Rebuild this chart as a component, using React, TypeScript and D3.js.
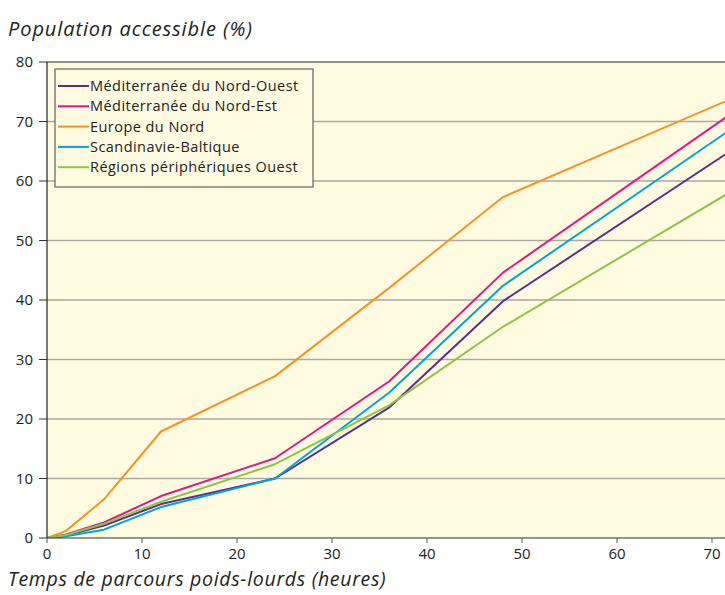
import React from "react";
import * as d3 from "d3";

const hours = [0, 2, 6, 12, 24, 36, 48, 72];
const seriesNames = [
  "Méditerranée du Nord-Ouest",
  "Méditerranée du Nord-Est",
  "Europe du Nord",
  "Scandinavie-Baltique",
  "Régions périphériques Ouest",
];
const medNO = [0, 0.4, 2.1, 5.7, 10, 21.9, 39.8, 65.1];
const medNE = [0, 0.6, 2.6, 7.05, 13.4, 26.3, 44.6, 71.3];
const europeNord = [0, 1.2, 6.5, 17.9, 27.2, 42, 57.3, 73.8];
const scandBalt = [0, 0.3, 1.4, 5.2, 10, 24.4, 42.4, 68.7];
const regionsOuest = [0, 0.5, 2.4, 6.1, 12.4, 22.3, 35.5, 58.2];
const seriesValues = [medNO, medNE, europeNord, scandBalt, regionsOuest];
const seriesColors = ["#5b2d90", "#e2158c", "#f7941d", "#00a3e0", "#8cc63f"];
const xTicks = [0, 10, 20, 30, 40, 50, 60, 70];
const yTicks = [0, 10, 20, 30, 40, 50, 60, 70, 80];

const W = 725;
const H = 595;
const left = 47;
const top = 62;
const bottom = 538;
const font = "'Open Sans', Lato, sans-serif";

export default function App() {
  const x = d3.scaleLinear().domain([0, 72]).range([left, left + 72 * 9.5]);
  const y = d3.scaleLinear().domain([0, 80]).range([bottom, top]);
  const line = d3
    .line<number>()
    .x((_, i) => x(hours[i]))
    .y((v) => y(v));

  return (
    <div style={{ position: "absolute", left: 0, top: 0 }}>
      <svg width={W} height={H} style={{ display: "block" }}>
        <defs>
          <clipPath id="plot">
            <rect x={left} y={top} width={W - left} height={bottom - top} />
          </clipPath>
        </defs>
        <rect x={left} y={top} width={W - left} height={bottom - top} fill="#fefbe0" />
        {yTicks.slice(1, -1).map((t) => (
          <line key={t} x1={left} x2={W} y1={y(t)} y2={y(t)} stroke="#aaa9a2" strokeWidth={1.5} />
        ))}
        <g clipPath="url(#plot)">
          {seriesValues.map((vals, i) => (
            <path
              key={i}
              d={line(vals) || ""}
              fill="none"
              stroke={seriesColors[i]}
              strokeWidth={2}
              strokeLinejoin="round"
            />
          ))}
        </g>
        <line x1={left} x2={W} y1={top} y2={top} stroke="#222" strokeWidth={1.2} />
        <line x1={left} x2={left} y1={top} y2={bottom} stroke="#222" strokeWidth={1.2} />
        <line x1={left} x2={W} y1={bottom} y2={bottom} stroke="#333" strokeWidth={1.2} />
        {yTicks.map((t) => (
          <g key={t}>
            <line x1={39} x2={left} y1={y(t)} y2={y(t)} stroke="#333" strokeWidth={1} />
            <text x={33} y={y(t)} dy="0.35em" textAnchor="end" fontFamily={font} fontSize={15} fill="#222">
              {t}
            </text>
          </g>
        ))}
        {xTicks.map((t) => (
          <g key={t}>
            <line x1={x(t)} x2={x(t)} y1={bottom} y2={bottom + 5} stroke="#555" strokeWidth={1} />
            <text x={x(t)} y={554} dy="0.35em" textAnchor="middle" fontFamily={font} fontSize={15} fill="#222">
              {t}
            </text>
          </g>
        ))}
        <text x={8} y={36} fontFamily={font} fontStyle="italic" fontSize={20} letterSpacing={0.9} fill="#222">
          Population accessible (%)
        </text>
        <text x={8} y={586} fontFamily={font} fontStyle="italic" fontSize={19.5} letterSpacing={0.7} fill="#222">
          Temps de parcours poids-lourds (heures)
        </text>
        <g>
          <rect x={55} y={69} width={258} height={118} fill="#fefbe0" stroke="#444" strokeWidth={1} />
          {seriesNames.map((n, i) => (
            <g key={n} transform={`translate(0, ${86 + i * 20.3})`}>
              <line x1={58} x2={89} y1={0} y2={0} stroke={seriesColors[i]} strokeWidth={2} />
              <text x={90} y={0} dy="0.35em" fontFamily={font} fontSize={14.5} letterSpacing={0.45} fill="#222">
                {n}
              </text>
            </g>
          ))}
        </g>
      </svg>
    </div>
  );
}
